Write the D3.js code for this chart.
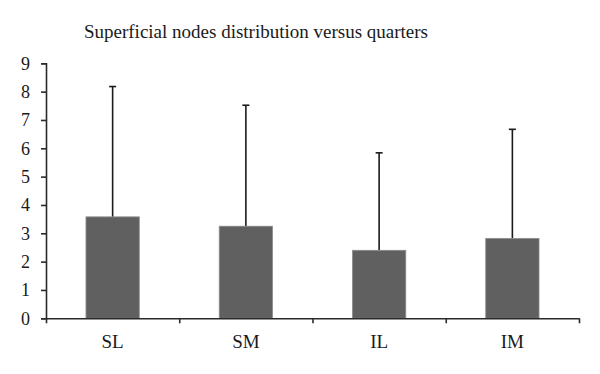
<!DOCTYPE html>
<html>
<head>
<meta charset="utf-8">
<script src="https://cdn.jsdelivr.net/npm/d3@7"></script>
<style>
  body { margin: 0; background: #fff; }
  svg { display: block; }
</style>
</head>
<body>
<div id="chart-area"></div>
<script>
// categories and values
let categories = ["SL", "SM", "IL", "IM"];
let means = [3.58, 3.25, 2.40, 2.82];
let errors = [4.60, 4.27, 3.44, 3.85];
let yTicks = [0, 1, 2, 3, 4, 5, 6, 7, 8, 9];
let title = "Superficial nodes distribution versus quarters";

let margin = {left: 46, right: 21, top: 63.3, bottom: 55.7};
let width = 600 - margin.left - margin.right;
let height = 374 - margin.top - margin.bottom;

let svg = d3.select("#chart-area")
    .append("svg")
    .attr("width", 600)
    .attr("height", 374);

let g = svg.append("g")
    .attr("transform", "translate(" + margin.left + "," + margin.top + ")");

let x = d3.scaleBand()
    .domain(categories)
    .range([0, width])
    .paddingInner(0.6)
    .paddingOuter(0.3);

// boundaries between categories, for the tick marks
let xEdges = d3.scaleLinear()
    .domain([0, categories.length])
    .range([0, width]);

let y = d3.scaleLinear()
    .domain([0, 9])
    .range([height, 0]);

let data = categories.map(function(c, i) {
    return {cat: c, mean: means[i], err: errors[i]};
});

// error bars (drawn first so the bar covers the lower part)
let eb = g.selectAll(".err")
    .data(data)
    .enter()
    .append("g")
    .attr("class", "err");

eb.append("line")
    .attr("x1", d => x(d.cat) + x.bandwidth() / 2)
    .attr("x2", d => x(d.cat) + x.bandwidth() / 2)
    .attr("y1", d => y(d.mean))
    .attr("y2", d => y(d.mean + d.err))
    .attr("stroke", "#1a1a1a")
    .attr("stroke-width", 1.6);

eb.append("line")
    .attr("x1", d => x(d.cat) + x.bandwidth() / 2 - 3.5)
    .attr("x2", d => x(d.cat) + x.bandwidth() / 2 + 3.5)
    .attr("y1", d => y(d.mean + d.err))
    .attr("y2", d => y(d.mean + d.err))
    .attr("stroke", "#1a1a1a")
    .attr("stroke-width", 1.6);

// bars
g.selectAll("rect")
    .data(data)
    .enter()
    .append("rect")
    .attr("x", d => x(d.cat))
    .attr("y", d => y(d.mean))
    .attr("width", x.bandwidth())
    .attr("height", d => height - y(d.mean))
    .attr("fill", "#606060")
    .attr("stroke", "#8c8c8c")
    .attr("stroke-width", 0.8);

// y axis
let yAxis = d3.axisLeft(y)
    .tickValues(yTicks)
    .tickSize(5)
    .tickPadding(11)
    .tickFormat(d3.format("d"));

let yAxis_group = g.append("g")
    .attr("class", "y axis")
    .call(yAxis);

yAxis_group.selectAll("text")
    .attr("font-family", "Liberation Serif, Times New Roman, serif")
    .attr("font-size", "18px")
    .attr("fill", "#1a1a1a");

// x axis: tick marks at category boundaries
let xAxis_group = g.append("g")
    .attr("class", "x axis")
    .attr("transform", "translate(0," + height + ")")
    .call(d3.axisBottom(xEdges)
        .tickValues(d3.range(0, categories.length + 1))
        .tickSize(5)
        .tickSizeOuter(0)
        .tickFormat(""));

// x labels
g.append("g")
    .attr("transform", "translate(0," + height + ")")
    .call(d3.axisBottom(x).tickSize(0).tickPadding(16))
    .call(s => s.select(".domain").remove())
    .selectAll("text")
    .attr("font-family", "Liberation Serif, Times New Roman, serif")
    .attr("font-size", "19px")
    .attr("fill", "#1a1a1a");

g.selectAll(".axis path, .axis line")
    .attr("stroke", "#2a2a2a")
    .attr("stroke-width", 1.6);

// title
svg.append("text")
    .attr("x", 256)
    .attr("y", 38)
    .attr("text-anchor", "middle")
    .attr("font-family", "Liberation Serif, Times New Roman, serif")
    .attr("font-size", "19px")
    .attr("fill", "#1a1a1a")
    .text(title);
</script>
</body>
</html>
